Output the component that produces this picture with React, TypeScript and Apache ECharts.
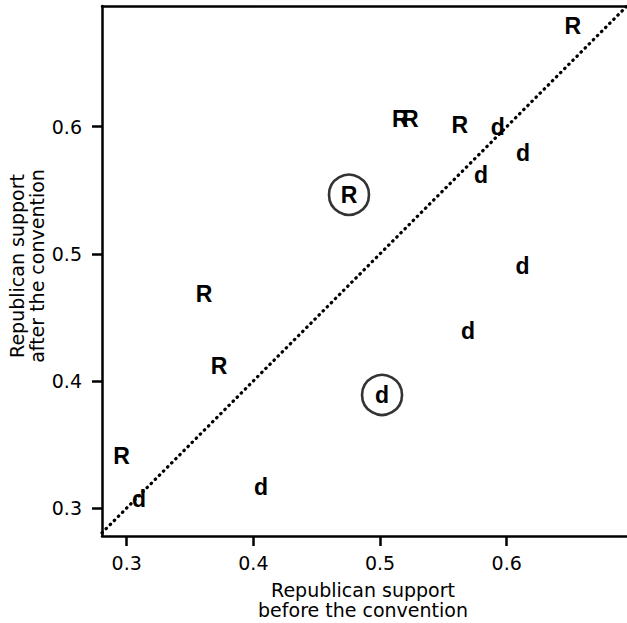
import React, { useEffect, useRef } from "react";
import * as echarts from "echarts";

// Republican-held states ("R"): support before vs after the convention
const repBefore = [0.6523, 0.516, 0.524, 0.563, 0.4755, 0.361, 0.373, 0.296];
const repAfter = [0.679, 0.606, 0.606, 0.601, 0.5465, 0.4686, 0.4119, 0.3412];
// Democratic ("d")
const demBefore = [0.593, 0.613, 0.5797, 0.6125, 0.5694, 0.5016, 0.406, 0.3097];
const demAfter = [0.5997, 0.5793, 0.5623, 0.4906, 0.4392, 0.389, 0.3166, 0.3071];
// circled points: [party, index]
const circled: [string, number][] = [
  ["R", 4],
  ["d", 5],
];
const tickValues = [0.3, 0.4, 0.5, 0.6];
const xRange = [0.2805, 0.695];
const yRange = [0.278, 0.695];
const xTitle = "Republican support\nbefore the convention";
const yTitle = "Republican support\nafter the convention";

export default function App() {
  const ref = useRef<HTMLDivElement>(null);
  useEffect(() => {
    if (!ref.current) return;
    const chart = echarts.init(ref.current, null, { renderer: "svg" });
    const labelData = [
      ...repBefore.map((x, i) => [x, repAfter[i], "R"]),
      ...demBefore.map((x, i) => [x, demAfter[i], "d"]),
    ];
    const circleData = circled.map(([p, i]) =>
      p === "R" ? [repBefore[i], repAfter[i]] : [demBefore[i], demAfter[i]]
    );
    const diagStart = Math.max(xRange[0], yRange[0]);
    const diagEnd = Math.min(xRange[1], yRange[1]);
    const font = "DejaVu Sans";
    chart.setOption({
      animation: false,
      grid: { left: 102, right: 0, top: 6, bottom: 87 },
      xAxis: [
        {
          type: "value",
          min: xRange[0],
          max: xRange[1],
          position: "bottom",
          splitLine: { show: false },
          axisLine: { show: true, lineStyle: { color: "#000", width: 2.5 } },
          axisTick: {
            show: true,
            length: 10,
            customValues: tickValues,
            lineStyle: { color: "#000", width: 2.5 },
          },
          axisLabel: {
            customValues: tickValues,
            margin: 17,
            color: "#000",
            fontSize: 19,
            fontFamily: font,
            formatter: (v: number) => v.toFixed(1),
          },
        },
        {
          type: "value",
          min: xRange[0],
          max: xRange[1],
          position: "top",
          splitLine: { show: false },
          axisLine: { show: true, onZero: false, lineStyle: { color: "#000", width: 2.5 } },
          axisTick: { show: false },
          axisLabel: { show: false },
        },
      ],
      yAxis: {
        type: "value",
        min: yRange[0],
        max: yRange[1],
        splitLine: { show: false },
        axisLine: { show: true, lineStyle: { color: "#000", width: 2.5 } },
        axisTick: {
          show: true,
          length: 10,
          customValues: tickValues,
          lineStyle: { color: "#000", width: 2.5 },
        },
        axisLabel: {
          customValues: tickValues,
          margin: 20,
          color: "#000",
          fontSize: 19,
          fontFamily: font,
          formatter: (v: number) => v.toFixed(1),
        },
      },
      series: [
        {
          type: "line",
          data: [
            [diagStart, diagStart],
            [diagEnd, diagEnd],
          ],
          symbol: "none",
          silent: true,
          lineStyle: { color: "#000", width: 3.2, type: [0.5, 5.3], cap: "round" },
          z: 1,
        },
        {
          type: "scatter",
          data: circleData,
          symbol: "circle",
          symbolSize: 40,
          silent: true,
          itemStyle: { color: "rgba(0,0,0,0)", borderColor: "#000", borderWidth: 2.6 },
          z: 2,
        },
        {
          type: "scatter",
          data: labelData,
          symbol: "circle",
          symbolSize: 1,
          silent: true,
          itemStyle: { color: "rgba(0,0,0,0)" },
          label: {
            show: true,
            position: "inside",
            formatter: (p: any) => p.data[2],
            color: "#000",
            textBorderWidth: 0,
            opacity: 1,
            fontSize: 23,
            fontWeight: "bold",
            fontFamily: "Liberation Sans",
          },
          z: 3,
        },
      ],
      graphic: [
        {
          type: "text",
          x: 363,
          y: 600,
          style: {
            text: xTitle,
            fill: "#000",
            fontSize: 19,
            fontFamily: font,
            lineHeight: 20,
            align: "center",
            verticalAlign: "middle",
          },
        },
        {
          type: "text",
          x: 27,
          y: 266,
          rotation: Math.PI / 2,
          style: {
            text: yTitle,
            fill: "#000",
            fontSize: 19,
            fontFamily: font,
            lineHeight: 20,
            align: "center",
            verticalAlign: "middle",
          },
        },
      ],
    });
    return () => chart.dispose();
  }, []);
  return (
    <div
      ref={ref}
      style={{ position: "absolute", left: 0, top: 0, width: 627, height: 623 }}
    />
  );
}
